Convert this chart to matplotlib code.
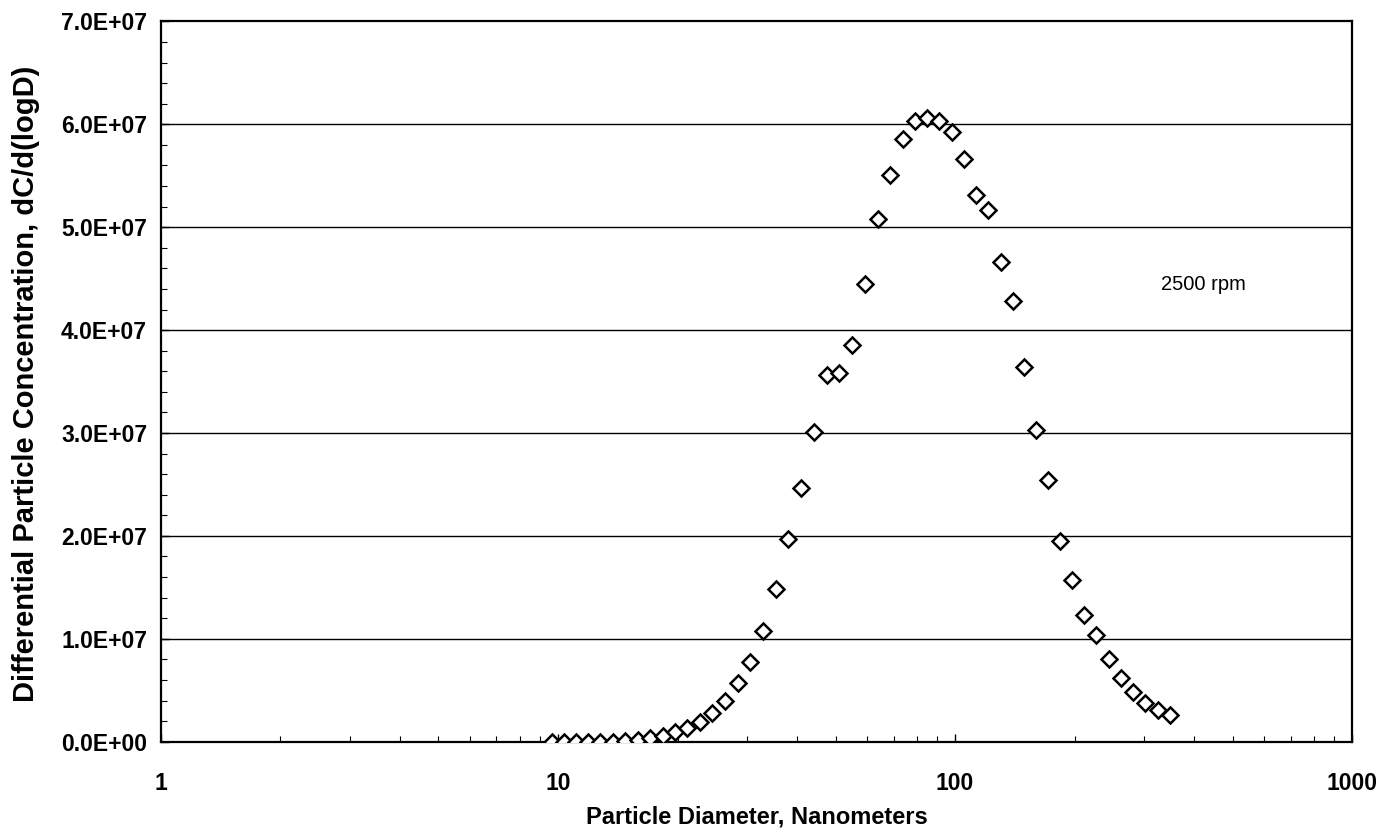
import matplotlib
matplotlib.use("Agg")
import matplotlib.pyplot as plt
from matplotlib.ticker import FixedLocator, NullFormatter, LogLocator

# Data
diameter_nm = [9.64, 10.34, 11.10, 11.93, 12.79, 13.77, 14.79, 15.90, 17.08, 18.34,
               19.75, 21.18, 22.80, 24.49, 26.41, 28.37, 30.49, 32.81, 35.32, 38.03,
               40.93, 44.12, 47.52, 51.04, 54.95, 59.16, 63.79, 68.54, 73.79, 79.37,
               85.11, 91.29, 98.27, 105.4, 113.2, 121.4, 130.2, 139.9, 149.6, 160.2,
               171.7, 183.4, 197.5, 211.4, 226.7, 243.8, 261.5, 281.0, 301.8, 324.3,
               347.7]
concentration = [0.0, 0.0, 0.0, 0.0, 0.0, 0.0, 1.0e5, 1.7e5, 3.3e5, 5.8e5,
                 9.1e5, 1.30e6, 1.89e6, 2.76e6, 3.98e6, 5.70e6, 7.77e6, 1.073e7, 1.484e7, 1.97e7,
                 2.47e7, 3.01e7, 3.567e7, 3.58e7, 3.855e7, 4.445e7, 5.08e7, 5.507e7, 5.857e7, 6.032e7,
                 6.064e7, 6.032e7, 5.925e7, 5.663e7, 5.316e7, 5.170e7, 4.665e7, 4.283e7, 3.644e7, 3.03e7,
                 2.543e7, 1.953e7, 1.571e7, 1.231e7, 1.034e7, 8.07e6, 6.22e6, 4.86e6, 3.79e6, 3.08e6,
                 2.57e6]
y_ticks = [0, 1e7, 2e7, 3e7, 4e7, 5e7, 6e7, 7e7]
y_tick_labels = ["0.0E+00", "1.0E+07", "2.0E+07", "3.0E+07", "4.0E+07", "5.0E+07", "6.0E+07", "7.0E+07"]
x_ticks = [1, 10, 100, 1000]
x_tick_labels = ["1", "10", "100", "1000"]
annotation = "2500 rpm"
x_label = "Particle Diameter, Nanometers"
y_label = "Differential Particle Concentration, dC/d(logD)"

plt.rcParams['font.family'] = ['Liberation Sans', 'DejaVu Sans']

fig = plt.figure(figsize=(13.9, 8.35), dpi=100)
ax = fig.add_axes([0.1158, 0.1117, 0.8569, 0.8627])

ax.plot(diameter_nm, concentration, linestyle='none', marker='D', markersize=8,
        markerfacecolor='white', markeredgecolor='black', markeredgewidth=1.8, zorder=3)

ax.set_xscale('log')
ax.set_xlim(1, 1000)
ax.set_ylim(0, 7e7)

ax.xaxis.set_major_locator(FixedLocator(x_ticks))
ax.set_xticklabels(x_tick_labels)
ax.xaxis.set_minor_locator(LogLocator(base=10, subs=range(2, 10)))
ax.xaxis.set_minor_formatter(NullFormatter())

ax.set_yticks(y_ticks)
ax.set_yticklabels(y_tick_labels)
ax.yaxis.set_minor_locator(FixedLocator([i * 2e6 for i in range(36)]))

for yv in y_ticks[1:-1]:
    ax.axhline(yv, color='black', linewidth=1.0, zorder=1)

ax.tick_params(axis='both', which='major', direction='in', length=6, width=1.0,
               labelsize=16.5)
ax.tick_params(axis='both', which='minor', direction='in', length=4, width=0.8)
ax.tick_params(axis='y', which='major', pad=10)
ax.tick_params(axis='x', which='major', pad=22)
for lbl in ax.get_xticklabels() + ax.get_yticklabels():
    lbl.set_fontweight('bold')

for s in ax.spines.values():
    s.set_linewidth(1.6)
    s.set_color('black')

ax.set_xlabel(x_label, fontsize=17, fontweight='bold')
ax.xaxis.label.set_va('center')
ax.xaxis.set_label_coords(0.5, -0.1045)
ax.set_ylabel(y_label, fontsize=21, fontweight='bold')
ax.yaxis.set_label_coords(-0.1015, 0.497)

ax.text(0.875, 0.6353, annotation, transform=ax.transAxes, fontsize=14.5,
        ha='center', va='center')

fig.savefig("out.png", dpi=100, facecolor='white')
